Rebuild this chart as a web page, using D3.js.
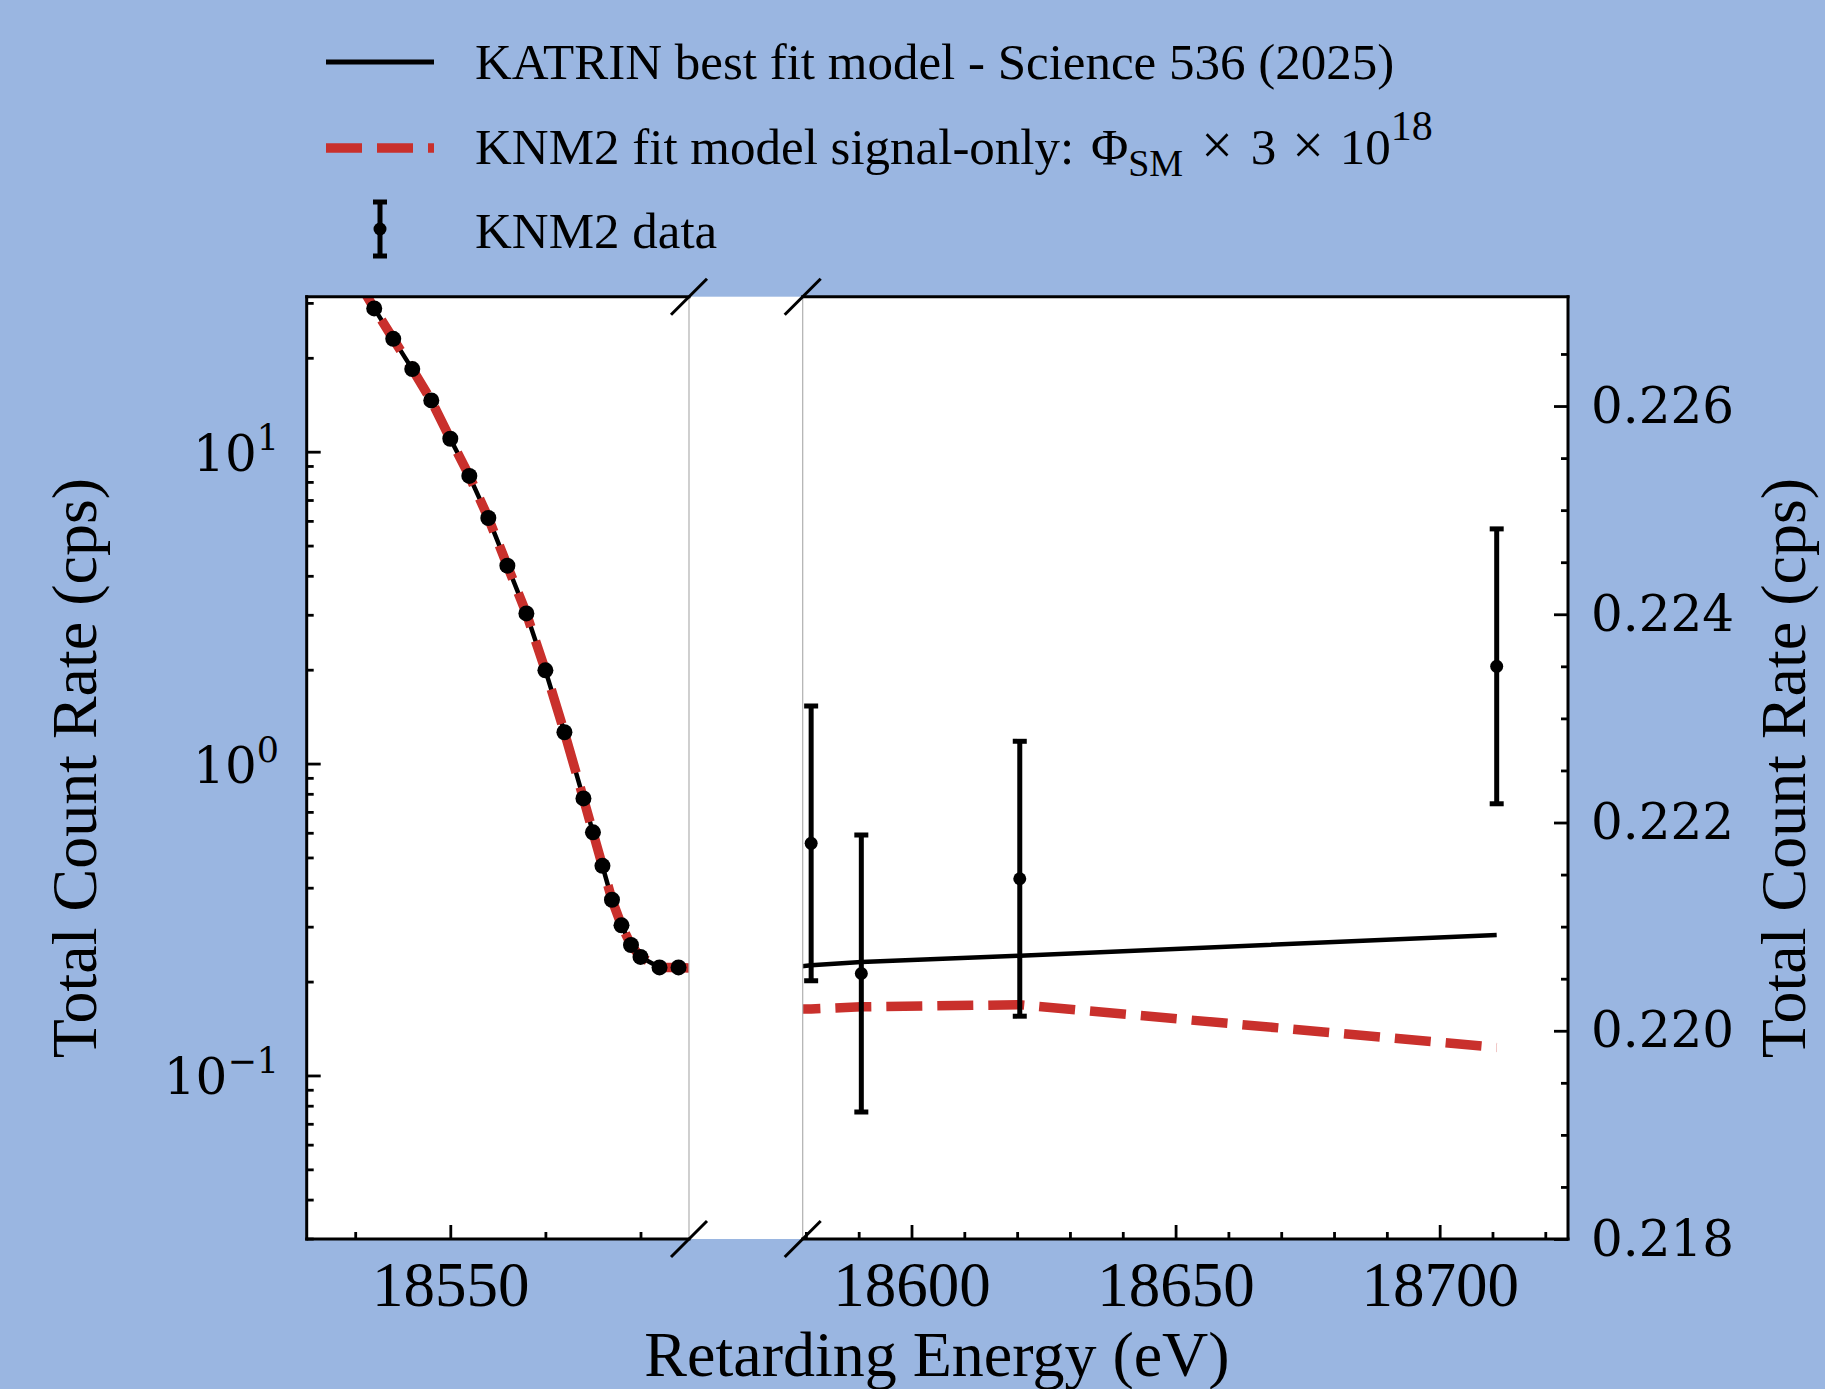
<!DOCTYPE html>
<html>
<head>
<meta charset="utf-8">
<script src="https://cdn.jsdelivr.net/npm/d3@7"></script>
<style>
  body { margin: 0; background: #9ab6e1; }
  svg { display: block; }
</style>
</head>
<body>
<div id="chart"></div>
<script>
'use strict';

// KNM2 scan points below the endpoint (left panel, log scale)
var scanEnergy = [18542, 18544, 18546, 18548, 18550, 18552, 18554, 18556, 18558, 18560,
                  18562, 18564, 18565, 18566, 18567, 18568, 18569, 18570, 18572, 18574];
var scanRate = [28.8, 23.0, 18.4, 14.6, 11.0, 8.36, 6.13, 4.31, 3.03, 1.99,
                1.26, 0.773, 0.602, 0.470, 0.366, 0.303, 0.262, 0.240, 0.222, 0.222];

// KNM2 points above the endpoint (right panel, linear scale)
var tailEnergy = [18581, 18590.5, 18620.5, 18710.8];
var tailRate = [0.22180, 0.22055, 0.22146, 0.22350];
var tailError = [0.00132, 0.00133, 0.00132, 0.00132];

// model curves
var modelEnergy = [18540, 18542, 18544, 18546, 18548, 18550, 18552, 18554, 18556, 18558,
                   18560, 18562, 18564, 18565, 18566, 18567, 18568, 18569, 18570, 18572,
                   18574, 18576, 18581, 18590.5, 18620.5, 18710.8];
var katrinRate = [36.5, 28.8, 23.0, 18.4, 14.6, 11.0, 8.36, 6.13, 4.31, 3.03,
                  1.99, 1.26, 0.773, 0.602, 0.470, 0.366, 0.303, 0.262, 0.240, 0.222,
                  0.222, 0.2206, 0.22063, 0.22066, 0.22072, 0.22092];
var signalRate = [36.5, 28.8, 23.0, 18.4, 14.6, 11.0, 8.36, 6.13, 4.31, 3.03,
                  1.99, 1.26, 0.773, 0.602, 0.470, 0.366, 0.303, 0.262, 0.240, 0.222,
                  0.222, 0.22021, 0.22021, 0.22023, 0.22025, 0.21984];

// ticks
var leftMajorX = [18550];
var leftMinorX = [18540, 18560, 18570];
var rightMajorX = [18600, 18650, 18700];
var logMajor = [0.1, 1, 10];
var logExp = ["\u22121", "0", "1"];
var rightMajorY = [0.218, 0.220, 0.222, 0.224, 0.226];

var legendLabels = [
    "KATRIN best fit model - Science 536 (2025)",
    "KNM2 fit model signal-only: ",
    "KNM2 data"
];

var W = 1825, H = 1389;
var bg = "#9ab6e1";
var red = "#c9302c";
var serif = "'Liberation Serif', 'Times New Roman', serif";
var mathFont = "'DejaVu Serif', serif";

var yTop = 296.7, yBottom = 1239;
var lx0 = 306.7, lx1 = 689, rx0 = 802.7, rx1 = 1568;

var svg = d3.select("#chart").append("svg")
    .attr("width", W)
    .attr("height", H);

svg.append("rect").attr("width", W).attr("height", H).style("fill", bg);
svg.append("rect")
    .attr("x", lx0).attr("y", yTop)
    .attr("width", rx1 - lx0).attr("height", yBottom - yTop)
    .style("fill", "white");

var xLeft = d3.scaleLinear().domain([18534.9, 18575.1]).range([lx0, lx1]);
var xRight = d3.scaleLinear().domain([18579.4, 18724.3]).range([rx0, rx1]);
var yLog = d3.scaleLog().domain([0.0299, 31.4]).range([yBottom, yTop]);
var yLin = d3.scaleLinear().domain([0.218, 0.22705]).range([yBottom, yTop]);

var defs = svg.append("defs");
defs.append("clipPath").attr("id", "clipL").append("rect")
    .attr("x", lx0).attr("y", yTop).attr("width", lx1 - lx0).attr("height", yBottom - yTop);
defs.append("clipPath").attr("id", "clipR").append("rect")
    .attr("x", rx0).attr("y", yTop).attr("width", rx1 - rx0).attr("height", yBottom - yTop);

var noDomain = function (g) { g.select(".domain").remove(); };

// ---- axes ----
var logMinor = yLog.ticks().filter(function (d) {
    return logMajor.indexOf(d) < 0;
});
svg.append("g").attr("transform", "translate(" + lx0 + ",0)")
    .call(d3.axisLeft(yLog).tickValues(logMinor).tickSize(-7).tickFormat(""))
    .call(noDomain);
svg.append("g").attr("transform", "translate(" + lx0 + ",0)")
    .call(d3.axisLeft(yLog).tickValues(logMajor).tickSize(-14).tickFormat(""))
    .call(noDomain);

var logLabels = svg.append("g").selectAll("text")
    .data(logMajor)
    .enter()
    .append("text")
    .attr("x", 279)
    .attr("y", function (d) { return yLog(d) + 19; })
    .style("font-family", mathFont)
    .style("font-size", "50px")
    .style("text-anchor", "end");
logLabels.append("tspan").text("10");
logLabels.append("tspan")
    .attr("dy", -21)
    .style("font-size", "35px")
    .text(function (d, i) { return logExp[i]; });

var xTickStyle = function (g) {
    g.selectAll("text")
        .style("font-family", serif)
        .style("font-size", "63px")
        .style("fill", "black");
};

svg.append("g").attr("transform", "translate(0," + yBottom + ")")
    .call(d3.axisBottom(xLeft).tickValues(leftMinorX).tickSize(-7).tickFormat(""))
    .call(noDomain);
svg.append("g").attr("transform", "translate(0," + yBottom + ")")
    .call(d3.axisBottom(xLeft).tickValues(leftMajorX).tickSize(-14).tickPadding(22)
        .tickFormat(d3.format("d")))
    .call(noDomain)
    .call(xTickStyle);

var rightMinorX = d3.range(18580, 18725, 10).filter(function (d) {
    return rightMajorX.indexOf(d) < 0;
});
svg.append("g").attr("transform", "translate(0," + yBottom + ")")
    .call(d3.axisBottom(xRight).tickValues(rightMinorX).tickSize(-7).tickFormat(""))
    .call(noDomain);
svg.append("g").attr("transform", "translate(0," + yBottom + ")")
    .call(d3.axisBottom(xRight).tickValues(rightMajorX).tickSize(-14).tickPadding(22)
        .tickFormat(d3.format("d")))
    .call(noDomain)
    .call(xTickStyle);

var rightMinorY = d3.range(0, 18).map(function (i) {
    return 0.218 + i * 0.0005;
}).filter(function (d, i) { return i % 4 != 0; });
svg.append("g").attr("transform", "translate(" + rx1 + ",0)")
    .call(d3.axisRight(yLin).tickValues(rightMinorY).tickSize(-7).tickFormat(""))
    .call(noDomain);
svg.append("g").attr("transform", "translate(" + rx1 + ",0)")
    .call(d3.axisRight(yLin).tickValues(rightMajorY).tickSize(-14).tickPadding(23)
        .tickFormat(d3.format(".3f")))
    .call(noDomain)
    .call(function (g) {
        g.selectAll("text")
            .style("font-family", mathFont)
            .style("font-size", "50px")
            .style("fill", "black");
    });

svg.selectAll(".tick line").style("stroke", "black").style("stroke-width", 2.8);

// ---- curves and data ----
var drawPanel = function (x, y, clipId) {
    var panel = svg.append("g").attr("clip-path", "url(#" + clipId + ")");

    var line = function (rates) {
        return d3.line()
            .x(function (d, i) { return x(modelEnergy[i]); })
            .y(function (d) { return y(d); })(rates);
    };

    panel.append("path")
        .attr("d", line(katrinRate))
        .style("fill", "none")
        .style("stroke", "black")
        .style("stroke-width", 4.5);

    panel.append("path")
        .attr("d", line(signalRate))
        .style("fill", "none")
        .style("stroke", red)
        .style("stroke-width", 9.5)
        .style("stroke-dasharray", "36,15");

    return panel;
};

var left = drawPanel(xLeft, yLog, "clipL");
left.selectAll("circle")
    .data(scanRate)
    .enter()
    .append("circle")
    .attr("cx", function (d, i) { return xLeft(scanEnergy[i]); })
    .attr("cy", function (d) { return yLog(d); })
    .attr("r", 8)
    .style("fill", "black");

var right = drawPanel(xRight, yLin, "clipR");
var bars = right.selectAll("g.bar")
    .data(tailRate)
    .enter()
    .append("g")
    .attr("class", "bar");
bars.append("line")
    .attr("x1", function (d, i) { return xRight(tailEnergy[i]); })
    .attr("x2", function (d, i) { return xRight(tailEnergy[i]); })
    .attr("y1", function (d, i) { return yLin(d - tailError[i]); })
    .attr("y2", function (d, i) { return yLin(d + tailError[i]); })
    .style("stroke", "black")
    .style("stroke-width", 5);
[-1, 1].forEach(function (s) {
    bars.append("line")
        .attr("x1", function (d, i) { return xRight(tailEnergy[i]) - 7; })
        .attr("x2", function (d, i) { return xRight(tailEnergy[i]) + 7; })
        .attr("y1", function (d, i) { return yLin(d + s * tailError[i]); })
        .attr("y2", function (d, i) { return yLin(d + s * tailError[i]); })
        .style("stroke", "black")
        .style("stroke-width", 5);
});
bars.append("circle")
    .attr("cx", function (d, i) { return xRight(tailEnergy[i]); })
    .attr("cy", function (d) { return yLin(d); })
    .attr("r", 6.5)
    .style("fill", "black");

// ---- spines and break marks ----
var spine = function (x1, y1, x2, y2, color, width) {
    svg.append("line")
        .attr("x1", x1).attr("y1", y1).attr("x2", x2).attr("y2", y2)
        .style("stroke", color)
        .style("stroke-width", width)
        .style("stroke-linecap", "square");
};
spine(lx1, yTop, lx1, yBottom, "#b0b0b0", 1.2);
spine(rx0, yTop, rx0, yBottom, "#b0b0b0", 1.2);
spine(lx0, yTop, lx0, yBottom, "black", 3);
spine(lx0, yTop, lx1, yTop, "black", 3);
spine(lx0, yBottom, lx1, yBottom, "black", 3);
spine(rx0, yTop, rx1, yTop, "black", 3);
spine(rx0, yBottom, rx1, yBottom, "black", 3);
spine(rx1, yTop, rx1, yBottom, "black", 3);

[[lx1, yTop], [rx0, yTop], [lx1, yBottom], [rx0, yBottom]].forEach(function (p) {
    svg.append("line")
        .attr("x1", p[0] - 18).attr("y1", p[1] + 18)
        .attr("x2", p[0] + 18).attr("y2", p[1] - 18)
        .style("stroke", "black")
        .style("stroke-width", 3);
});

// ---- axis labels ----
var label = function (text, x, y, rotate) {
    svg.append("text")
        .attr("transform", "translate(" + x + "," + y + ") rotate(" + rotate + ")")
        .style("font-family", serif)
        .style("font-size", "64px")
        .style("text-anchor", "middle")
        .text(text);
};
label("Retarding Energy (eV)", 937, 1376, 0);
label("Total Count Rate (cps)", 96, 768, -90);
label("Total Count Rate (cps)", 1805, 768, -90);

// ---- legend ----
var legend = svg.append("g");
legend.append("line")
    .attr("x1", 326).attr("x2", 434).attr("y1", 62).attr("y2", 62)
    .style("stroke", "black").style("stroke-width", 5);
legend.append("line")
    .attr("x1", 326).attr("x2", 434).attr("y1", 148).attr("y2", 148)
    .style("stroke", red).style("stroke-width", 9.5)
    .style("stroke-dasharray", "36,15");
legend.append("line")
    .attr("x1", 380).attr("x2", 380).attr("y1", 202).attr("y2", 256)
    .style("stroke", "black").style("stroke-width", 5);
[202, 256].forEach(function (yy) {
    legend.append("line")
        .attr("x1", 373).attr("x2", 387).attr("y1", yy).attr("y2", yy)
        .style("stroke", "black").style("stroke-width", 5);
});
legend.append("circle").attr("cx", 380).attr("cy", 229).attr("r", 6.5).style("fill", "black");

var legendY = [79, 164, 248];
var legendText = legend.selectAll("text")
    .data(legendLabels)
    .enter()
    .append("text")
    .attr("x", 475)
    .attr("y", function (d, i) { return legendY[i]; })
    .style("font-family", serif)
    .style("font-size", "51px")
    .text(function (d) { return d; });

var formula = d3.select(legendText.nodes()[1]);
formula.append("tspan").attr("dx", 4).text("\u03A6");
formula.append("tspan").attr("dy", 12).style("font-size", "38px").text("SM");
formula.append("tspan").attr("dy", -12).attr("dx", 18).style("font-size", "56px").text("\u00D7");
formula.append("tspan").attr("dx", 18).text("3");
formula.append("tspan").attr("dx", 16).style("font-size", "56px").text("\u00D7");
formula.append("tspan").attr("dx", 16).text("10");
formula.append("tspan").attr("dy", -24).style("font-size", "42px").text("18");
</script>
</body>
</html>
